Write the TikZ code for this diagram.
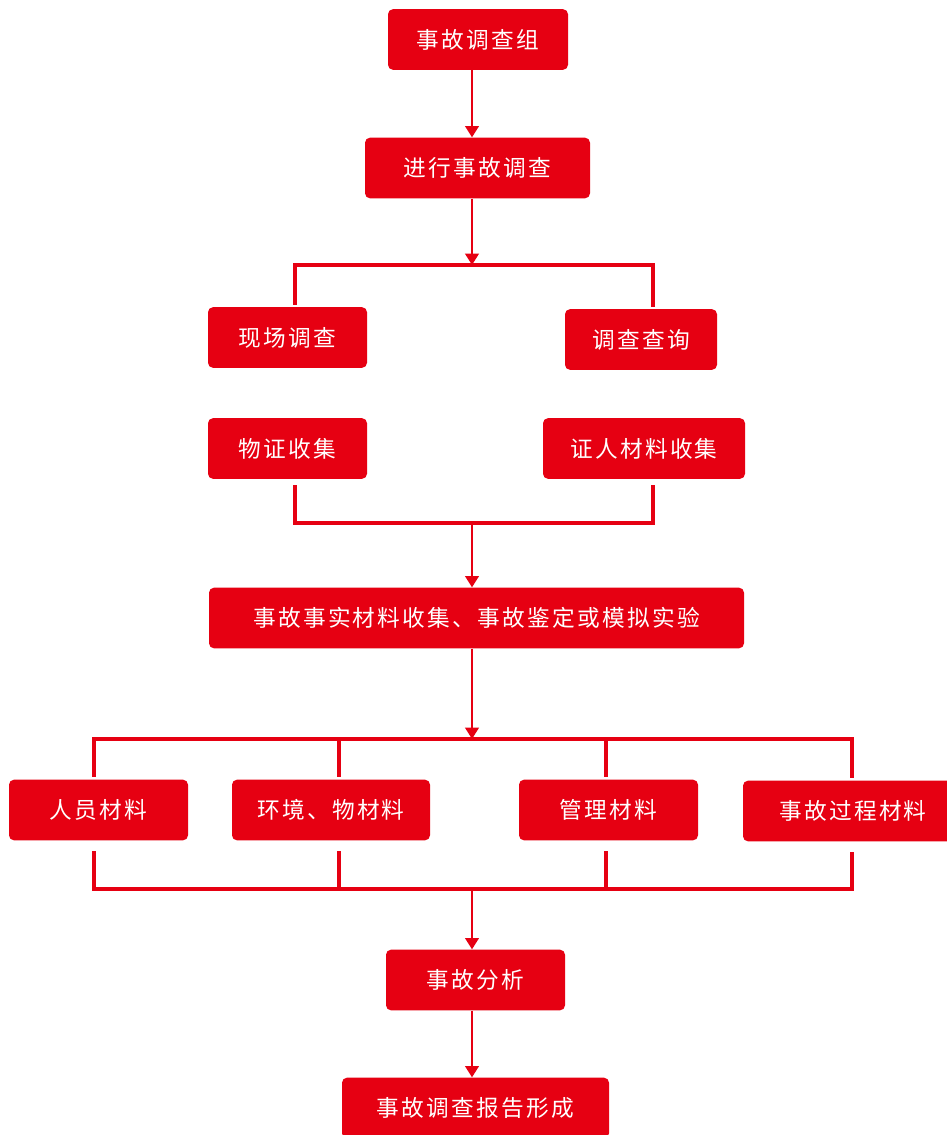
\documentclass[tikz,border=0pt]{standalone}
\usepackage{fontspec}
\newfontfamily\cjk[LetterSpace=10]{Noto Sans CJK SC}
\usepackage{tikz}
\usetikzlibrary{arrows.meta, calc, positioning}
\definecolor{flowred}{HTML}{E60012}

\begin{document}
\begin{tikzpicture}[x=0.75pt, y=-0.75pt,
	box/.style={fill=flowred, text=white, rounded corners=3.75pt, inner sep=0pt,
		minimum height=45.5pt, font=\cjk\fontsize{17}{20}\selectfont},
	line/.style={draw=flowred, line width=2.9pt},
	arr/.style={draw=flowred, line width=2.1pt, -{Triangle[width=10pt, length=8.5pt]}}]
	\useasboundingbox (0,0) rectangle (946,1135);

	\node [box, minimum width=135pt]    (grp)   at (478, 39.5)  {事故调查组};
	\node [box, minimum width=168.75pt] (inv)   at (477.5, 168) {进行事故调查};
	\node [box, minimum width=119.25pt] (site)  at (287.5, 337.5) {现场调查};
	\node [box, minimum width=114pt]    (query) at (641, 339.5) {调查查询};
	\node [box, minimum width=119.25pt] (phys)  at (287.5, 448.5) {物证收集};
	\node [box, minimum width=151.5pt]  (wit)   at (644, 448.5) {证人材料收集};
	\node [box, minimum width=401.25pt] (facts) at (476.5, 618) {事故事实材料收集、事故鉴定或模拟实验};
	\node [box, minimum width=134.25pt] (m1)    at (98.5, 810)  {人员材料};
	\node [box, minimum width=148.5pt]  (m2)    at (331, 810)   {环境、物材料};
	\node [box, minimum width=134.25pt] (m3)    at (608.5, 810) {管理材料};
	\node [box, minimum width=165pt]    (m4)    at (853, 811)   {事故过程材料};
	\node [box, minimum width=134.25pt] (ana)   at (475.5, 980) {事故分析};
	\node [box, minimum width=200.25pt] (rep)   at (475.5, 1108) {事故调查报告形成};

	% spine and bracket points
	\coordinate (s) at (472, 0);
	\coordinate (tl) at (295, 265);
	\coordinate (tr) at (653, 265);
	\coordinate (tm) at (472, 265);
	\coordinate (bl) at (295, 523);
	\coordinate (br) at (653, 523);
	\coordinate (bm) at (472, 523);
	\foreach \i/\x in {1/94, 2/339, 3/606, 4/852} {
		\coordinate (q\i) at (\x, 739);
		\coordinate (r\i) at (\x, 889);
	}
	\coordinate (qm) at (472, 739);
	\coordinate (rm) at (472, 889);

	\draw [arr] (grp.south -| s) -- (inv.north -| s);
	\draw [arr] (inv.south -| s) -- (tm);
	\draw [line, shorten <=1.5pt, shorten >=1.5pt] (site.north -| tl) -- (tl) -- (tr) -- (query.north -| tr);

	\draw [line, shorten <=4.5pt, shorten >=4.5pt] (phys.south -| bl) -- (bl) -- (br) -- (wit.south -| br);
	\draw [arr] (bm) -- (facts.north -| s);

	\draw [arr] (facts.south -| s) -- (qm);
	\draw [line, shorten <=2pt, shorten >=2pt] (m1.north -| q1) -- (q1) -- (q4) -- (m4.north -| q4);
	\foreach \i/\n in {2/m2, 3/m3}
		\draw [line, shorten >=2pt] (q\i) -- (\n.north -| q\i);

	\draw [line, shorten <=8pt, shorten >=8pt] (m1.south -| r1) -- (r1) -- (r4) -- (m4.south -| r4);
	\foreach \i/\n in {2/m2, 3/m3}
		\draw [line, shorten >=8pt] (r\i) -- (\n.south -| r\i);
	\draw [arr] (rm) -- (ana.north -| s);
	\draw [arr] (ana.south -| s) -- (rep.north -| s);
\end{tikzpicture}
\end{document}
